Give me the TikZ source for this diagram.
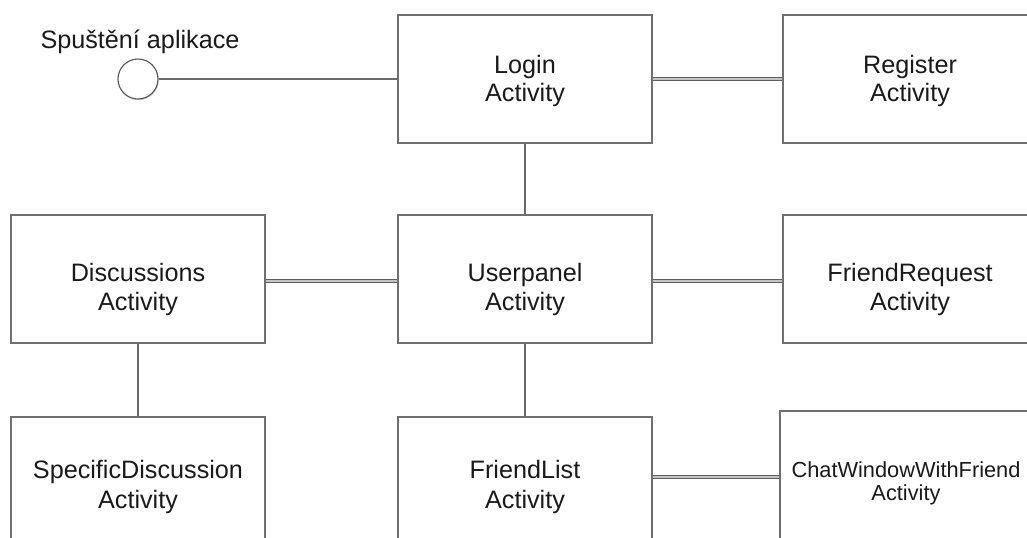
\documentclass[tikz,border=0pt]{standalone}
\usepackage{fontspec}
\setmainfont{Liberation Sans}
\usepackage{tikz}
\usetikzlibrary{shadows}
\definecolor{cbox}{HTML}{707070}
\definecolor{cline}{HTML}{6A6A6A}
\definecolor{cink}{HTML}{1A1A1A}
\tikzset{
  act/.style={draw=cbox,line width=0.55pt,fill=white,align=center,inner sep=0pt,
    minimum width=127pt,minimum height=64pt,text=cink,
    font=\fontsize{12.6}{14}\selectfont,text height=22pt,text depth=0pt},
  actmid/.style={act,font=\fontsize{12.6}{14.5}\selectfont,text height=31pt},
  actlow/.style={act,font=\fontsize{12.6}{15}\selectfont,text height=27pt},
  link/.style={draw=cline,line width=0.55pt},
  dlink/.style={draw=cline!90!black,line width=0.5pt,double=gray!45,double distance=0.8pt},
}

\begin{document}
\begin{tikzpicture}[x=0.5pt,y=-0.5pt]
\useasboundingbox (0,0) rectangle (1027,537);
\clip (0,0) rectangle (1027,537);

% ================= start =================
\node[circle,draw=cline!80!black,line width=0.55pt,fill=white,minimum size=20pt,inner sep=0pt,
  drop shadow={shadow xshift=0.4pt,shadow yshift=-0.6pt,opacity=0.35}] (start) at (138,79) {};
\node[text=cink,font=\fontsize{12.6}{14}\selectfont] (startlbl) at (140,42) {Spuštění aplikace};

% ================= activities =================
\node[act] (login) at (525,79) {Login\\Activity};
\node[act] (register) at (910,79) {Register\\Activity};
\node[actmid] (disc) at (138,279) {Discussions\\Activity};
\node[actmid] (user) at (525,279) {Userpanel\\Activity};
\node[actmid] (freq) at (910,279) {FriendRequest\\Activity};
\node[actlow] (spec) at (138,481) {SpecificDiscussion\\Activity};
\node[actlow] (flist) at (525,481) {FriendList\\Activity};
\node[act,minimum width=126pt,font=\fontsize{10.9}{11.5}\selectfont,text height=25pt] (chat) at (906,475) {ChatWindowWithFriend\\Activity};

% ================= connectors =================
\draw[link] (start) -- (login);
\draw[link] (login) -- (user);
\draw[link] (user) -- (flist);
\draw[link] (disc) -- (spec);
\draw[dlink] (login.east) -- (register.west);
\draw[dlink] (disc.east |- 0,281) -- (user.west |- 0,281);
\draw[dlink] (user.east |- 0,281) -- (freq.west |- 0,281);
\draw[dlink] (flist.east |- 0,477) -- (chat.west |- 0,477);

\end{tikzpicture}
\end{document}
